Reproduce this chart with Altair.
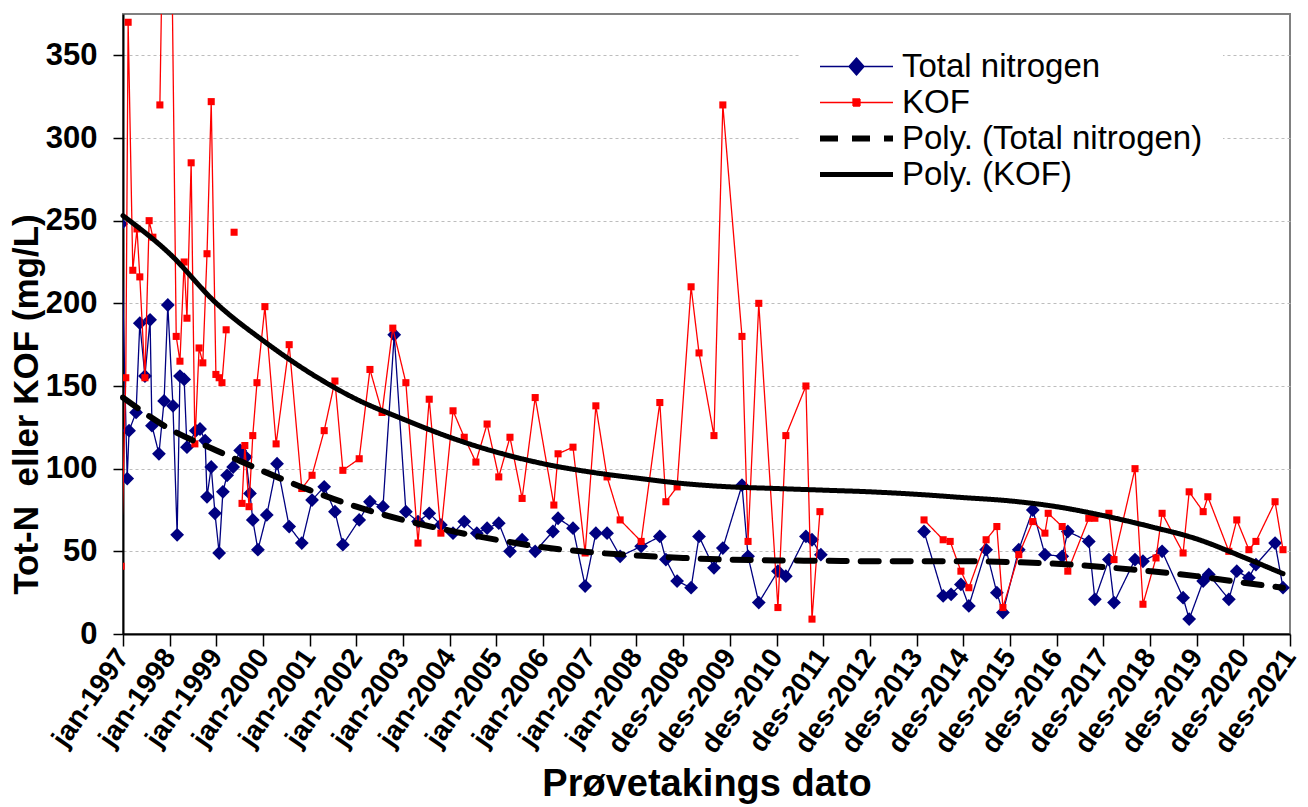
import json

import altair as alt
import pandas as pd

# Axis positions are in years counted from the first tick (jan-1997 = 0).
tick_labels = [
    "jan-1997", "jan-1998", "jan-1999", "jan-2000", "jan-2001", "jan-2002",
    "jan-2003", "jan-2004", "jan-2005", "jan-2006", "jan-2007", "jan-2008",
    "des-2008", "des-2009", "des-2010", "des-2011", "des-2012", "des-2013",
    "des-2014", "des-2015", "des-2016", "des-2017", "des-2018", "des-2019",
    "des-2020", "des-2021",
]

# Total nitrogen samples (None = no sample, breaks the line)
tn_t = [
    -0.04, 0.09, 0.13, 0.28, 0.36, 0.47, 0.58, 0.62, 0.77, 0.88,
    0.96, 1.07, 1.16, 1.22, 1.31, 1.37, 1.56, 1.65, 1.76, 1.80,
    1.89, 1.97, 2.06, 2.14, 2.23, 2.36, 2.51, 2.63, 2.72, 2.78,
    2.89, 3.08, 3.30, 3.56, 3.83, 4.05, 4.31, 4.54, 4.71, 5.06,
    5.29, 5.57, 5.81, 6.06, 6.32, 6.56, 6.81, 7.07, 7.31, 7.58,
    7.80, 8.05, 8.29, 8.55, 8.83, 9.21, 9.32, 9.64, 9.90, 10.13,
    10.37, 10.65, 11.10, 11.50, 11.63, 11.87, 12.17, 12.34, 12.66, 12.85,
    13.26, 13.39, 13.62, 14.03, 14.20, 14.63, 14.76, 14.95, 16.00, 17.16,
    17.57, 17.74, 17.95, 18.12, 18.49, 18.72, 18.85, 19.19, 19.49, 19.75,
    20.12, 20.24, 20.69, 20.82, 21.12, 21.23, 21.68, 21.85, 22.26, 22.71,
    22.84, 23.14, 23.26, 23.69, 23.86, 24.12, 24.27, 24.68, 24.85,
]
tn_val = [
    248, 94, 123, 134, 188, 156, 190, 126, 109, 141,
    199, 138, 60, 156, 154, 113, 123, 124, 117, 83,
    101, 73, 49, 86, 96, 101, 111, 107, 85, 69,
    51, 72, 103, 65, 55, 81, 89, 74, 54, 69,
    80, 77, 181, 74, 68, 73, 66, 61, 68, 61,
    64, 67, 50, 57, 50, 62, 70, 64, 29, 61,
    61, 47, 53, 59, 45, 32, 28, 59, 40, 52,
    90, 47, 19, 38, 35, 59, 57, 48, None, 62,
    23, 24, 30, 17, 51, 25, 13, 51, 75, 48,
    47, 62, 56, 21, 45, 19, 45, 44, 50, 22,
    9, 32, 36, 21, 38, 34, 42, 55, 28,
]

# KOF samples
kof_t = [
    -0.04, 0.06, 0.11, 0.21, 0.30, 0.36, 0.47, 0.56, 0.64, 0.72,
    0.79, 0.96, 1.14, 1.22, 1.31, 1.37, 1.46, 1.54, 1.63, 1.71,
    1.80, 1.89, 1.99, 2.06, 2.12, 2.21, 2.30, 2.38, 2.46, 2.55,
    2.61, 2.70, 2.78, 2.87, 3.04, 3.28, 3.56, 3.83, 4.05, 4.31,
    4.54, 4.71, 5.06, 5.29, 5.55, 5.78, 6.06, 6.32, 6.56, 6.81,
    7.07, 7.31, 7.56, 7.80, 8.05, 8.29, 8.55, 8.83, 9.23, 9.32,
    9.64, 9.90, 10.13, 10.37, 10.65, 11.10, 11.50, 11.63, 11.87, 12.17,
    12.34, 12.66, 12.85, 13.26, 13.39, 13.62, 14.03, 14.20, 14.63, 14.76,
    14.93, 16.00, 17.16, 17.57, 17.72, 17.95, 18.12, 18.49, 18.72, 18.85,
    19.19, 19.49, 19.75, 19.82, 20.12, 20.24, 20.69, 20.82, 21.12, 21.23,
    21.68, 21.85, 22.13, 22.26, 22.71, 22.84, 23.14, 23.24, 23.69, 23.86,
    24.12, 24.27, 24.68, 24.85,
]
kof_val = [
    41, 155, 370, 220, 245, 216, 155, 250, 240, None,
    320, 620, 180, 165, 225, 191, 285, 115, 173, 164,
    230, 322, 157, 155, 152, 184, None, 243, None, 79,
    114, 77, 120, 152, 198, 115, 175, 88, 96, 123,
    153, 99, 106, 160, 134, 185, 152, 55, 142, 61,
    135, 119, 104, 127, 95, 119, 82, 143, 78, 109,
    113, 49, 138, 95, 69, 56, 140, 80, 89, 210,
    170, 120, 320, 180, 56, 200, 16, 120, 150, 9,
    74, None, 69, 57, 56, 38, 28, 57, 65, 16,
    48, 68, 61, 73, 65, 38, 70, 70, 73, 45,
    100, 18, 46, 73, 49, 86, 74, 83, 50, 69,
    51, 56, 80, 51,
]

# Polynomial trend curves, sampled at each year tick
trend_t = list(range(25)) + [24.85]
trend_tn = [143, 124, 111, 98.5, 87, 77, 69, 62.5, 57, 52.5, 49.5, 47.5, 46,
            45, 44.5, 44.3, 44, 44, 44, 43.5, 42.5, 40.5, 38, 35, 31, 28]
trend_kof = [253, 230, 200, 177.5, 158, 142, 130, 119, 110, 103, 98, 94.3, 91,
             89, 88, 87, 86, 84.5, 82.5, 80.5, 77, 71.6, 65, 57.5, 46.5, 36.5]

series = ["Total nitrogen", "KOF", "Poly. (Total nitrogen)", "Poly. (KOF)"]
series_colors = ["#000080", "#FF0000", "#000000", "#000000"]
series_widths = [1.3, 1.3, 6, 5]
series_dashes = [[1, 0], [1, 0], [18, 14], [1, 0]]

FONT = "Liberation Sans"

tn_df = pd.DataFrame({"t": tn_t, "verdi": tn_val, "serie": series[0]})
kof_df = pd.DataFrame({"t": kof_t, "verdi": kof_val, "serie": series[1]})
tn_trend_df = pd.DataFrame({"t": trend_t, "verdi": trend_tn, "serie": series[2]})
kof_trend_df = pd.DataFrame({"t": trend_t, "verdi": trend_kof, "serie": series[3]})

x_axis = alt.Axis(
    values=list(range(len(tick_labels))),
    labelExpr=f"{json.dumps(tick_labels)}[round(datum.value)]",
    labelAngle=305, labelAlign="right", labelBaseline="middle",
    labelFont=FONT, labelFontSize=28, labelFontWeight="bold", labelColor="black",
    labelPadding=6, labelOverlap=False, labelFlush=False, labelBound=False,
    tickSize=12, tickColor="black", tickWidth=1.5,
    domainColor="black", domainWidth=2, grid=False,
    title="Prøvetakings dato", titleFont=FONT, titleFontSize=38,
    titleFontWeight="bold", titleColor="black",
    titleX=583.5, titleY=150, titleAlign="center", titleBaseline="middle",
)
y_axis = alt.Axis(
    values=[0, 50, 100, 150, 200, 250, 300, 350],
    grid=True, gridColor="#BDBDBD", gridDash=[3, 3], gridWidth=1,
    tickSize=10, tickColor="black", tickWidth=1.5,
    domainColor="black", domainWidth=2,
    labelFont=FONT, labelFontSize=31, labelFontWeight="bold", labelColor="black",
    labelPadding=16,
    title="Tot-N\u00a0 eller KOF (mg/L)", titleFont=FONT, titleFontSize=35,
    titleFontWeight="bold", titleColor="black", titleAngle=270,
    titleX=-97, titleY=390, titleAlign="center", titleBaseline="middle",
)

X = alt.X("t:Q", scale=alt.Scale(domain=[0, 25], nice=False, zero=False), axis=x_axis)
Y = alt.Y("verdi:Q", scale=alt.Scale(domain=[0, 375], nice=False, zero=True), axis=y_axis)

# Legend glyphs: a line through a marker, drawn as one path (unit = 5 px)
line_path = "M-7.3,0H7.3"
tn_glyph = line_path + "M0,-1.7L1.5,0L0,1.7L-1.5,0Z"
kof_glyph = line_path + "M-0.7,-0.7H0.7V0.7H-0.7Z"


def by_series(mapping, default):
    expr = f"'{default}'"
    for name, val in reversed(list(mapping.items())):
        expr = f"datum.value === '{name}' ? '{val}' : {expr}"
    return alt.ExprRef(expr=expr)


legend = alt.Legend(
    title=None, orient="none", legendX=677, legendY=16,
    padding=20, fillColor="white",
    labelFont=FONT, labelFontSize=33, labelColor="black", labelLimit=600,
    symbolOffset=20, labelOffset=29, rowPadding=2,
    symbolSize=100,
    symbolType=by_series({series[0]: tn_glyph, series[1]: kof_glyph}, line_path),
    symbolFillColor=by_series({series[0]: "#000080", series[1]: "#FF0000"}, "transparent"),
)

color = alt.Color("serie:N", scale=alt.Scale(domain=series, range=series_colors), legend=legend)
width = alt.StrokeWidth("serie:N", scale=alt.Scale(type="ordinal", domain=series, range=series_widths), legend=legend)
dash = alt.StrokeDash("serie:N", scale=alt.Scale(type="ordinal", domain=series, range=series_dashes), legend=legend)


def series_line(df, **mark):
    return alt.Chart(df).mark_line(**mark).encode(x=X, y=Y, color=color, strokeWidth=width, strokeDash=dash)


tn_line = series_line(tn_df, clip=True, invalid="break-paths-show-domains")
tn_points = alt.Chart(tn_df).mark_point(
    shape="diamond", filled=True, size=190, color="#000080", opacity=1, clip=True
).encode(x=X, y=Y)
kof_line = series_line(kof_df, clip=True, invalid="break-paths-show-domains")
kof_points = alt.Chart(kof_df).mark_point(
    shape="square", filled=True, size=50, color="#FF0000", opacity=1, clip=True
).encode(x=X, y=Y)
tn_trend = series_line(tn_trend_df, interpolate="monotone", strokeCap="round")
kof_trend = series_line(kof_trend_df, interpolate="monotone", strokeCap="round")

chart = (
    alt.layer(tn_line, tn_points, kof_line, kof_points, tn_trend, kof_trend)
    .properties(
        width=1167, height=620,
        padding={"left": 123, "top": 14, "right": 18, "bottom": 173},
        autosize=alt.AutoSizeParams(type="none"),
        background="white",
    )
    .configure_view(stroke="#808080", strokeWidth=2)
)

chart.save("out.html", embed_options={"renderer": "svg", "actions": False})
